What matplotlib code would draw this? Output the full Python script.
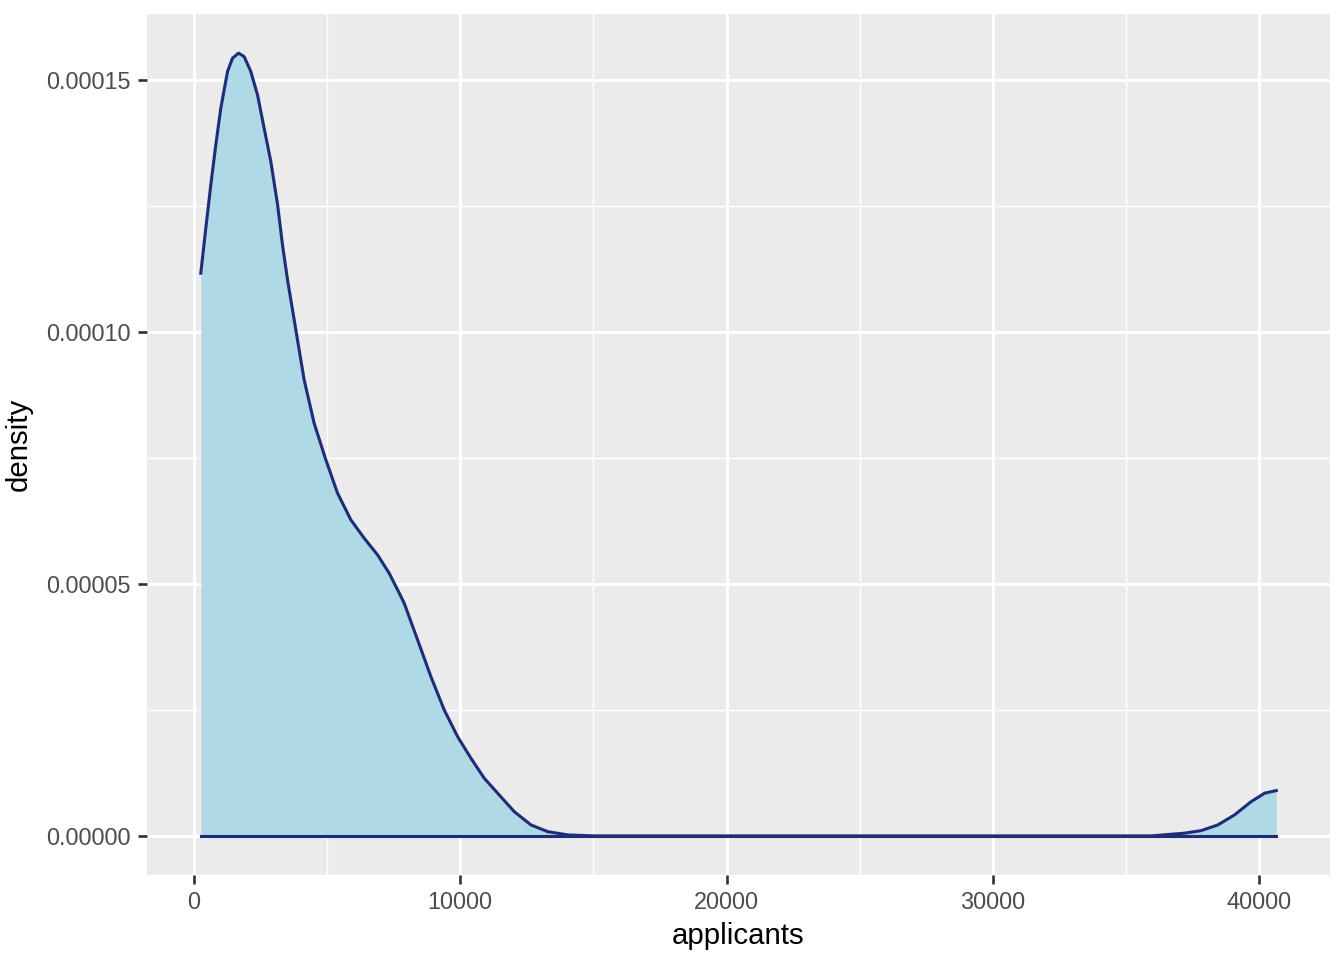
import numpy as np
import matplotlib
matplotlib.use("Agg")
import matplotlib.pyplot as plt
from matplotlib.ticker import MultipleLocator, FormatStrFormatter

# density curve (applicants, density)
applicants = [263, 451, 638, 826, 1014, 1266, 1453, 1679, 1889, 2141, 2392, 2640,
              2892, 3144, 3331, 3519, 3831, 4143, 4518, 4958, 5397, 5897, 6396,
              6900, 7335, 7711, 7899, 8402, 8901, 9401, 9904, 10404, 10903, 11407,
              12030, 12657, 13284, 14036, 15035, 20000, 30000, 35944, 37195, 37822,
              38449, 39073, 39700, 40200, 40639]
density = [1.1165e-4, 1.2058e-4, 1.2917e-4, 1.3710e-4, 1.4438e-4, 1.5165e-4,
           1.5431e-4, 1.5530e-4, 1.5463e-4, 1.5165e-4, 1.4702e-4, 1.4042e-4,
           1.3379e-4, 1.2530e-4, 1.1720e-4, 1.1032e-4, 1.0040e-4, 9.048e-5,
           8.188e-5, 7.460e-5, 6.800e-5, 6.270e-5, 5.907e-5, 5.575e-5, 5.212e-5,
           4.820e-5, 4.617e-5, 3.889e-5, 3.161e-5, 2.500e-5, 1.970e-5, 1.542e-5,
           1.145e-5, 8.47e-6, 4.82e-6, 2.18e-6, 8.5e-7, 2e-7, 0.0, 0.0, 0.0, 0.0,
           5.4e-7, 1.05e-6, 2.18e-6, 4.17e-6, 6.81e-6, 8.47e-6, 8.99e-6]

x_ticks = [0, 10000, 20000, 30000, 40000]
y_ticks = [0.0, 0.00005, 0.0001, 0.00015]

plt.rcParams['font.family'] = ['Liberation Sans', 'DejaVu Sans']

fig = plt.figure(figsize=(7, 5), dpi=192)
ax = fig.add_axes([0.1094, 0.0885, 0.8802, 0.8969])
ax.set_facecolor('#EBEBEB')

x = np.array(applicants)
d = np.array(density)
ax.fill_between(x, 0, d, color='#ADD8E6', alpha=0.95, linewidth=0, zorder=3)
ax.plot(x, d, color='#1F2C78', lw=1.15, zorder=4, solid_joinstyle='round')
ax.plot([x[0], x[-1]], [0, 0], color='#1F2C78', lw=1.15, zorder=4)

span_x = x.max() - x.min()
ax.set_xlim(x.min() - 0.05 * span_x, x.max() + 0.05 * span_x)
ax.set_ylim(-0.05 * d.max(), 1.05 * d.max())

ax.set_xticks(x_ticks)
ax.set_yticks(y_ticks)
ax.yaxis.set_major_formatter(FormatStrFormatter('%.5f'))
ax.xaxis.set_minor_locator(MultipleLocator(5000))
ax.yaxis.set_minor_locator(MultipleLocator(0.000025))
ax.grid(which='major', color='white', lw=1.1, zorder=0)
ax.grid(which='minor', color='white', lw=0.55, zorder=0)
ax.set_axisbelow(True)
for s in ax.spines.values():
    s.set_visible(False)
ax.tick_params(which='major', length=3.5, width=1.0, color='#333333',
               labelsize=8.8, labelcolor='#4D4D4D', pad=2.5)
ax.tick_params(which='minor', length=0)

ax.set_xlabel('applicants', fontsize=11, color='black', labelpad=3)
ax.set_ylabel('density', fontsize=11, color='black', labelpad=5)

fig.savefig('out.png', dpi=192, facecolor='white')
